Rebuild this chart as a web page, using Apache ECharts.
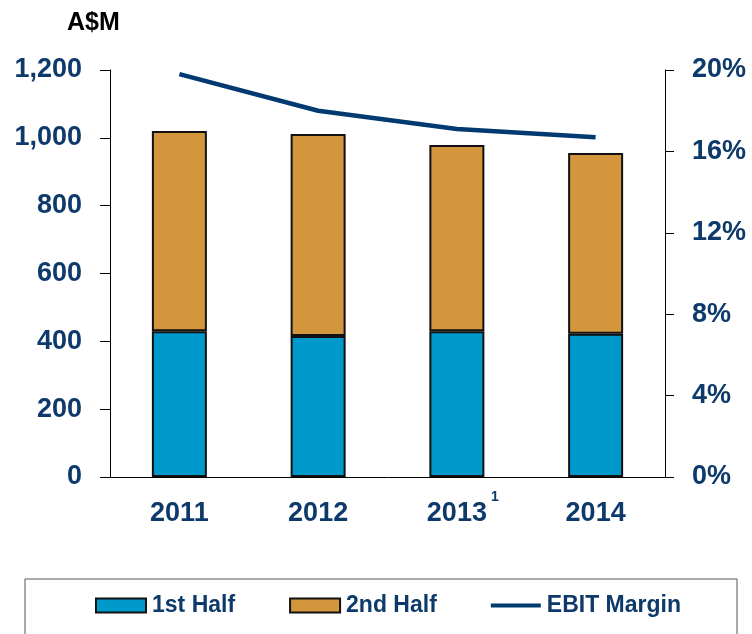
<!DOCTYPE html>
<html>
<head>
<meta charset="utf-8">
<script src="https://cdn.jsdelivr.net/npm/echarts@6/dist/echarts.min.js"></script>
<style>
  html, body { margin: 0; padding: 0; background: #fff; }
  #main { width: 752px; height: 634px; }
</style>
</head>
<body>
<div id="main"></div>
<script>
// categories and values
const years = ['2011', '2012', '2013', '2014']
const firstHalf = [430, 416, 430, 422]
const secondHalf = [590, 595, 549, 533]
const ebitMargin = [19.8, 18.0, 17.1, 16.7]

const navy = '#0d3a6b'
const chart = echarts.init(document.getElementById('main'))

chart.setOption({
  animation: false,
  textStyle: { fontFamily: 'Liberation Sans, Arial, sans-serif' },
  title: {
    text: 'A$M',
    left: 62,
    top: 6,
    textStyle: { color: '#000', fontSize: 25, fontWeight: 'bold' }
  },
  legend: {
    data: [
      { name: '1st Half', icon: 'rect' },
      { name: '2nd Half', icon: 'rect' },
      { name: 'EBIT Margin', icon: 'path://M0,0h50v4h-50z' }
    ],
    bottom: 12,
    left: 90,
    itemGap: 54,
    itemWidth: 50,
    itemHeight: 14,
    textStyle: { color: navy, fontSize: 23, fontWeight: 'bold', padding: [0, 0, 0, 1] }
  },
  graphic: [{
    type: 'rect',
    shape: { x: 25, y: 579, width: 712, height: 60 },
    style: { fill: 'none', stroke: '#555', lineWidth: 1 },
    silent: true
  }, {
    type: 'text',
    left: 491,
    top: 490,
    style: { text: '1', fill: navy, font: 'bold 14px Liberation Sans, Arial' }
  }],
  grid: { left: 110, right: 87, top: 70, bottom: 157 },
  xAxis: {
    type: 'category',
    data: years,
    axisLine: { lineStyle: { color: '#000', width: 1 } },
    axisTick: { show: false },
    axisLabel: { color: navy, fontSize: 27, fontWeight: 'bold', margin: 23 }
  },
  yAxis: [{
    type: 'value',
    min: 0,
    max: 1200,
    interval: 200,
    axisLine: { show: true, lineStyle: { color: '#000' } },
    axisTick: { show: true, length: 10, lineStyle: { color: '#000' } },
    splitLine: { show: false },
    axisLabel: {
      color: navy, fontSize: 27, fontWeight: 'bold', margin: 28,
      formatter: v => v.toLocaleString('en-US')
    }
  }, {
    type: 'value',
    min: 0,
    max: 20,
    interval: 4,
    position: 'right',
    axisLine: { show: true, lineStyle: { color: '#000' } },
    axisTick: { show: true, length: 9, lineStyle: { color: '#000' } },
    splitLine: { show: false },
    axisLabel: { color: navy, fontSize: 27, fontWeight: 'bold', margin: 27, formatter: '{value}%' }
  }],
  series: [{
    name: '1st Half',
    type: 'bar',
    stack: 'ebit',
    barWidth: 55,
    data: firstHalf,
    itemStyle: { color: '#0099cc', borderColor: '#111', borderWidth: 2 }
  }, {
    name: '2nd Half',
    type: 'bar',
    stack: 'ebit',
    barWidth: 55,
    data: secondHalf,
    itemStyle: { color: '#d3963c', borderColor: '#111', borderWidth: 2 }
  }, {
    name: 'EBIT Margin',
    type: 'line',
    yAxisIndex: 1,
    data: ebitMargin,
    symbol: 'none',
    lineStyle: { color: '#003a70', width: 4.5 },
    itemStyle: { color: '#003a70' }
  }]
})
</script>
</body>
</html>
